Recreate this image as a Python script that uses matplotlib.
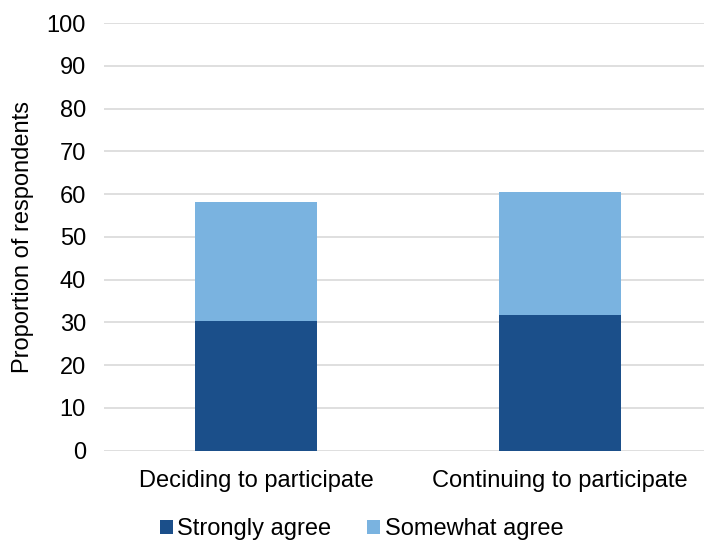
import matplotlib
matplotlib.use("Agg")
import matplotlib.pyplot as plt
import numpy as np

plt.rcParams['font.family'] = ['Liberation Sans', 'DejaVu Sans']

categories = ["Deciding to participate", "Continuing to participate"]
strongly_agree = [30.4, 31.8]
somewhat_agree = [27.7, 28.6]
series_names = ["Strongly agree", "Somewhat agree"]
colors = ["#1B4F8A", "#7AB3E0"]
yticks = list(range(0, 101, 10))

FS = 17

fig = plt.figure(figsize=(7.04, 5.41), dpi=100)
ax = fig.add_axes([104 / 704, (541 - 450.7) / 541, 600 / 704, (450.7 - 23) / 541])

x = np.arange(len(categories))
ax.bar(x, strongly_agree, width=0.4, color=colors[0], label=series_names[0], zorder=3)
ax.bar(x, somewhat_agree, width=0.4, bottom=strongly_agree, color=colors[1],
       label=series_names[1], zorder=3)

ax.set_xlim(-0.5, 1.474)
ax.set_ylim(0, 100)
ax.set_yticks(yticks)
ax.set_xticks(x)
ax.set_xticklabels(categories)
ax.tick_params(axis='both', length=0, labelsize=FS, colors='#000000')
ax.tick_params(axis='y', pad=13)
ax.tick_params(axis='x', pad=14)
ax.grid(axis='y', color='#D9D9D9', linewidth=1.2, zorder=0)
for s in ax.spines.values():
    s.set_visible(False)
ax.set_ylabel("Proportion of respondents", fontsize=FS)
ax.yaxis.set_label_coords(34 / 704, 1 - 237 / 541, transform=fig.transFigure)

leg = fig.legend(loc='center', bbox_to_anchor=(361.5 / 704, 1 - 529 / 541), ncol=2,
                 frameon=False, fontsize=FS, handlelength=0.55, handleheight=0.55,
                 handletextpad=0.2, columnspacing=1.5, borderpad=0, borderaxespad=0)

fig.savefig("out.png", dpi=100)
